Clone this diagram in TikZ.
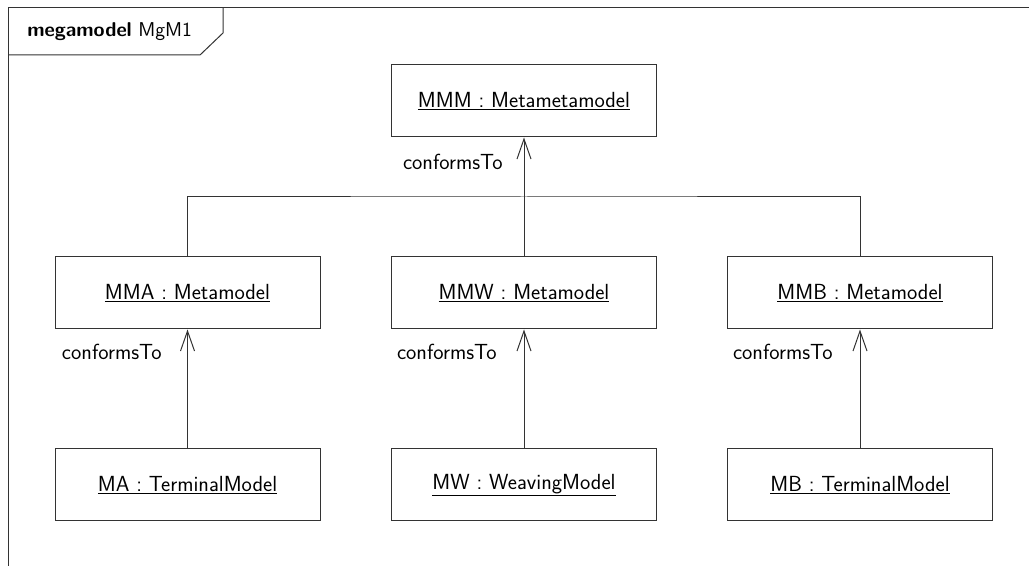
\documentclass[tikz,border=0pt]{standalone}
\usetikzlibrary{arrows.meta}
\begin{document}
\begin{tikzpicture}[x=0.75pt,y=-0.75pt,
  line/.style={draw=black!80, line width=0.75pt},
  obj/.style={line, fill=white, minimum width=265*0.75pt, minimum height=72*0.75pt,
    inner sep=0pt, font=\sffamily\fontsize{16.4}{19}\selectfont},
  role/.style={inner sep=0pt, anchor=east, font=\sffamily\fontsize{16.4}{19}\selectfont},
  conf/.style={line, -{Straight Barb[length=15pt, width=10.5pt, line width=0.75pt]}}]
\useasboundingbox (0,0) rectangle (1029,566);
% diagram frame with its name tab
\draw[line] (8,566) -- (8,8) -- (1029,8);
\draw[line] (8,55) -- (200,55) -- (223,33) -- (223,8);
\node[anchor=west, inner sep=0pt, font=\sffamily\fontsize{15}{18}\selectfont] (title) at (27,32)
  {\textbf{megamodel} MgM1};
% instances
\node[obj] (mmm) at (524,101) {\underline{MMM : Metametamodel}};
\node[obj] (mma) at (187.5,293) {\underline{MMA : Metamodel}};
\node[obj] (mmw) at (524,293) {\underline{MMW : Metamodel}};
\node[obj] (mmb) at (860,293) {\underline{MMB : Metamodel}};
\node[obj] (ma) at (187.5,485) {\underline{MA : TerminalModel}};
\node[obj] (mw) at (524,485) {\underline{MW : WeavingModel}};
\node[obj] (mb) at (860,485) {\underline{MB : TerminalModel}};
% conformsTo links
\coordinate (j) at (524,197);
\draw[line] (mma.north) |- (j) -| (mmb.north);
\draw[line] (mmw.north) -- (j);
\draw[conf] (j) -- (mmm.south);
\draw[conf] (ma.north) -- (mma.south);
\draw[conf] (mw.north) -- (mmw.south);
\draw[conf] (mb.north) -- (mmb.south);
% role labels
\node[role] (r0) at (503,162) {conformsTo};
\node[role] (r1) at (162,352) {conformsTo};
\node[role] (r2) at (497,352) {conformsTo};
\node[role] (r3) at (833,352) {conformsTo};
\end{tikzpicture}
\end{document}
